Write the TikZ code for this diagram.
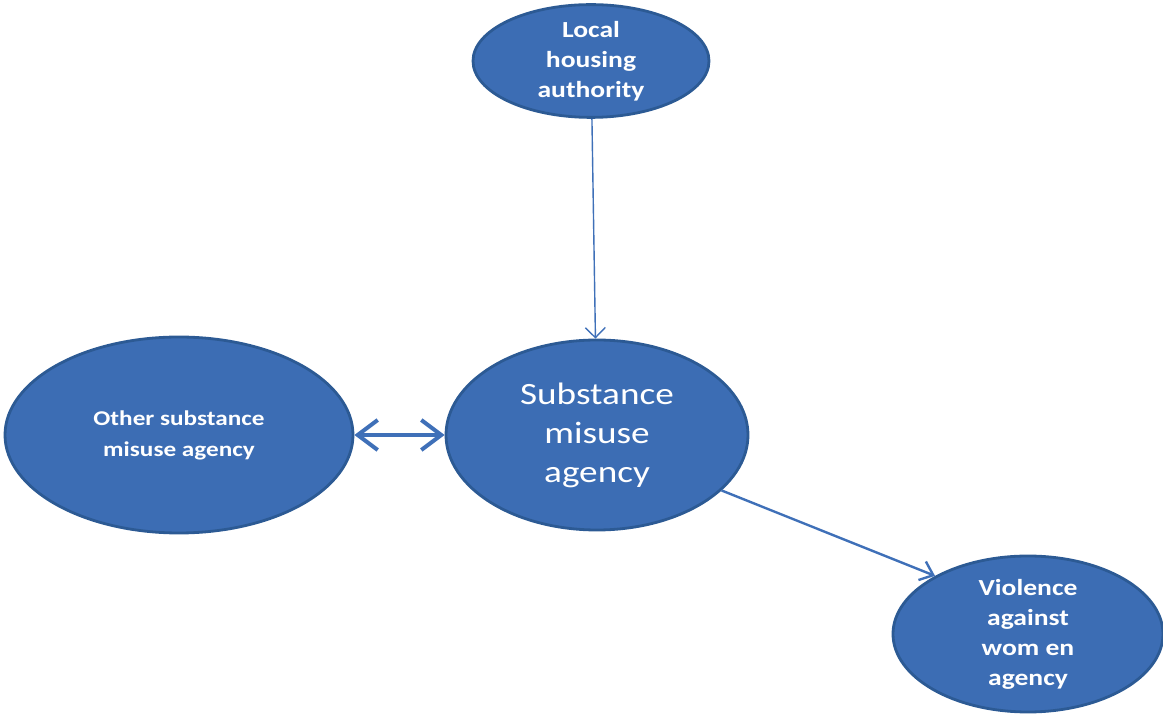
\documentclass[tikz,border=0pt]{standalone}
\usepackage{fontspec}
\setmainfont{Carlito}[FakeStretch=1.2]
\usetikzlibrary{shapes.geometric,arrows.meta}
\definecolor{agencyfill}{HTML}{3C6DB4}
\definecolor{agencyline}{HTML}{2C5A94}
\definecolor{linkblue}{HTML}{3F70B8}

\begin{document}
\begin{tikzpicture}[x=1pt,y=1pt,
  agency/.style={ellipse,draw=agencyline,line width=2.8pt,fill=agencyfill,
    text=white,inner sep=0pt,align=center,
    font=\bfseries\fontsize{23}{30}\selectfont},
  link/.style={draw=linkblue}]
\useasboundingbox (0,0) rectangle (1163,715);
% Drawing agencies (y counted up from the bottom edge)
\node[agency,minimum width=236pt,minimum height=105pt] (housing) at (591,654)
  {Local\\housing\\authority};
\node[agency,minimum width=302pt,minimum height=190pt,
  font=\mdseries\fontsize{31}{39}\selectfont] (main) at (597,280)
  {Substance\\misuse\\agency};
\node[agency,minimum width=348pt,minimum height=196pt,
  font=\bfseries\fontsize{21}{31}\selectfont] (other) at (179,280)
  {Other substance\\misuse agency};
\node[agency,minimum width=270pt,minimum height=156pt] (violence) at (1028,81)
  {Violence\\against\\wom en\\agency};
% Done with agencies; drawing links
\draw[link,line width=1.4pt,-{Straight Barb[length=10pt,width=20pt]}]
  (housing) -- (main);
\draw[link,line width=4pt,
  {Straight Barb[length=20pt,width=30pt]}-{Straight Barb[length=20pt,width=30pt]}]
  (other) -- (main);
\draw[link,line width=2.4pt,-{Straight Barb[length=12pt,width=20pt]}]
  (main.-24) -- (violence.148);
% Done with links
\end{tikzpicture}
\end{document}
